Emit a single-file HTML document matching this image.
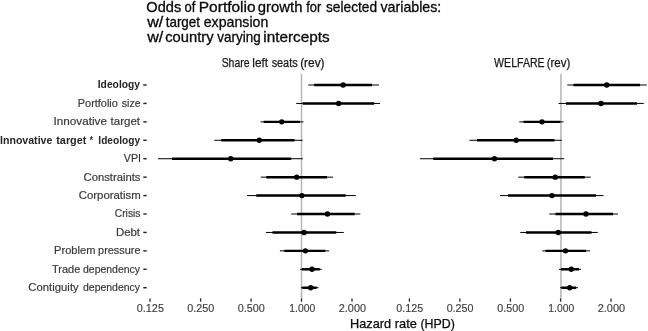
<!DOCTYPE html>
<html><head><meta charset="utf-8"><title>Odds of Portfolio growth</title>
<style>html,body{margin:0;padding:0;background:#fff}svg{display:block;will-change:transform;filter:grayscale(1)}text{font-family:"Liberation Sans",sans-serif}</style>
</head><body>
<svg width="648" height="331" viewBox="0 0 648 331">
<rect x="0" y="0" width="648" height="331" fill="#ffffff"/>
<text x="146.32" y="12.00" font-size="14.1" fill="#0a0a0a" stroke="#0a0a0a" stroke-width="0.3" textLength="34.89" lengthAdjust="spacingAndGlyphs">Odds</text>
<text x="184.59" y="12.00" font-size="14.1" fill="#0a0a0a" stroke="#0a0a0a" stroke-width="0.3" textLength="10.86" lengthAdjust="spacingAndGlyphs">of</text>
<text x="198.79" y="12.00" font-size="14.1" fill="#0a0a0a" stroke="#0a0a0a" stroke-width="0.3" textLength="56.84" lengthAdjust="spacingAndGlyphs">Portfolio</text>
<text x="257.79" y="12.00" font-size="14.1" fill="#0a0a0a" stroke="#0a0a0a" stroke-width="0.3" textLength="44.65" lengthAdjust="spacingAndGlyphs">growth</text>
<text x="306.25" y="12.00" font-size="14.1" fill="#0a0a0a" stroke="#0a0a0a" stroke-width="0.3" textLength="15.06" lengthAdjust="spacingAndGlyphs">for</text>
<text x="326.04" y="12.00" font-size="14.1" fill="#0a0a0a" stroke="#0a0a0a" stroke-width="0.3" textLength="50.98" lengthAdjust="spacingAndGlyphs">selected</text>
<text x="380.5" y="12.00" font-size="14.1" fill="#0a0a0a" stroke="#0a0a0a" stroke-width="0.3" textLength="60.78" lengthAdjust="spacingAndGlyphs">variables:</text>
<text x="147.15" y="27.00" font-size="14.1" fill="#0a0a0a" stroke="#0a0a0a" stroke-width="0.3" textLength="16.09" lengthAdjust="spacingAndGlyphs">w/</text>
<text x="165.7" y="27.00" font-size="14.1" fill="#0a0a0a" stroke="#0a0a0a" stroke-width="0.3" textLength="34.35" lengthAdjust="spacingAndGlyphs">target</text>
<text x="203.76" y="27.00" font-size="14.1" fill="#0a0a0a" stroke="#0a0a0a" stroke-width="0.3" textLength="64.54" lengthAdjust="spacingAndGlyphs">expansion</text>
<text x="147.15" y="42.00" font-size="14.1" fill="#0a0a0a" stroke="#0a0a0a" stroke-width="0.3" textLength="16.09" lengthAdjust="spacingAndGlyphs">w/</text>
<text x="165.24" y="42.00" font-size="14.1" fill="#0a0a0a" stroke="#0a0a0a" stroke-width="0.3" textLength="48.36" lengthAdjust="spacingAndGlyphs">country</text>
<text x="217.3" y="42.00" font-size="14.1" fill="#0a0a0a" stroke="#0a0a0a" stroke-width="0.3" textLength="43.36" lengthAdjust="spacingAndGlyphs">varying</text>
<text x="263.24" y="42.00" font-size="14.1" fill="#0a0a0a" stroke="#0a0a0a" stroke-width="0.3" textLength="66.33" lengthAdjust="spacingAndGlyphs">intercepts</text>
<text x="221.67" y="66.70" font-size="12" fill="#1a1a1a" stroke="#1a1a1a" stroke-width="0.25" textLength="27.85" lengthAdjust="spacingAndGlyphs">Share</text>
<text x="252.36" y="66.70" font-size="12" fill="#1a1a1a" stroke="#1a1a1a" stroke-width="0.25" textLength="15.8" lengthAdjust="spacingAndGlyphs">left</text>
<text x="271.63" y="66.70" font-size="12" fill="#1a1a1a" stroke="#1a1a1a" stroke-width="0.25" textLength="26.01" lengthAdjust="spacingAndGlyphs">seats</text>
<text x="300.14" y="66.70" font-size="12" fill="#1a1a1a" stroke="#1a1a1a" stroke-width="0.25" textLength="24.47" lengthAdjust="spacingAndGlyphs">(rev)</text>
<text x="494.1" y="66.70" font-size="12" fill="#1a1a1a" stroke="#1a1a1a" stroke-width="0.25" textLength="50.54" lengthAdjust="spacingAndGlyphs">WELFARE</text>
<text x="546.66" y="66.70" font-size="12" fill="#1a1a1a" stroke="#1a1a1a" stroke-width="0.25" textLength="23.63" lengthAdjust="spacingAndGlyphs">(rev)</text>
<text x="97.76" y="88.40" font-size="11" font-weight="bold" fill="#262626" textLength="42.28" lengthAdjust="spacingAndGlyphs">Ideology</text>
<text x="77.85" y="106.83" font-size="11" fill="#3a3a3a" stroke="#3a3a3a" stroke-width="0.2" textLength="39.99" lengthAdjust="spacingAndGlyphs">Portfolio</text>
<text x="121.84" y="106.83" font-size="11" fill="#3a3a3a" stroke="#3a3a3a" stroke-width="0.2" textLength="18.69" lengthAdjust="spacingAndGlyphs">size</text>
<text x="53.48" y="125.26" font-size="11" fill="#3a3a3a" stroke="#3a3a3a" stroke-width="0.2" textLength="53.49" lengthAdjust="spacingAndGlyphs">Innovative</text>
<text x="110.6" y="125.26" font-size="11" fill="#3a3a3a" stroke="#3a3a3a" stroke-width="0.2" textLength="29.46" lengthAdjust="spacingAndGlyphs">target</text>
<text x="0.04" y="143.69" font-size="11" font-weight="bold" fill="#262626" textLength="52.32" lengthAdjust="spacingAndGlyphs">Innovative</text>
<text x="56.25" y="143.69" font-size="11" font-weight="bold" fill="#262626" textLength="30.1" lengthAdjust="spacingAndGlyphs">target</text>
<text x="89.8" y="143.69" font-size="11" font-weight="bold" fill="#262626" textLength="3.19" lengthAdjust="spacingAndGlyphs">*</text>
<text x="98.37" y="143.69" font-size="11" font-weight="bold" fill="#262626" textLength="41.67" lengthAdjust="spacingAndGlyphs">Ideology</text>
<text x="123.8" y="162.12" font-size="11" fill="#3a3a3a" stroke="#3a3a3a" stroke-width="0.2" textLength="17.27" lengthAdjust="spacingAndGlyphs">VPI</text>
<text x="83.57" y="180.55" font-size="11" fill="#3a3a3a" stroke="#3a3a3a" stroke-width="0.2" textLength="56.88" lengthAdjust="spacingAndGlyphs">Constraints</text>
<text x="78.77" y="198.98" font-size="11" fill="#3a3a3a" stroke="#3a3a3a" stroke-width="0.2" textLength="61.92" lengthAdjust="spacingAndGlyphs">Corporatism</text>
<text x="114.82" y="217.41" font-size="11" fill="#3a3a3a" stroke="#3a3a3a" stroke-width="0.2" textLength="25.6" lengthAdjust="spacingAndGlyphs">Crisis</text>
<text x="115.91" y="235.84" font-size="11" fill="#3a3a3a" stroke="#3a3a3a" stroke-width="0.2" textLength="24.15" lengthAdjust="spacingAndGlyphs">Debt</text>
<text x="54.03" y="254.27" font-size="11" fill="#3a3a3a" stroke="#3a3a3a" stroke-width="0.2" textLength="41.45" lengthAdjust="spacingAndGlyphs">Problem</text>
<text x="98.12" y="254.27" font-size="11" fill="#3a3a3a" stroke="#3a3a3a" stroke-width="0.2" textLength="42.42" lengthAdjust="spacingAndGlyphs">pressure</text>
<text x="51.93" y="272.70" font-size="11" fill="#3a3a3a" stroke="#3a3a3a" stroke-width="0.2" textLength="28.42" lengthAdjust="spacingAndGlyphs">Trade</text>
<text x="82.97" y="272.70" font-size="11" fill="#3a3a3a" stroke="#3a3a3a" stroke-width="0.2" textLength="57.13" lengthAdjust="spacingAndGlyphs">dependency</text>
<text x="28.37" y="291.13" font-size="11" fill="#3a3a3a" stroke="#3a3a3a" stroke-width="0.2" textLength="50.33" lengthAdjust="spacingAndGlyphs">Contiguity</text>
<text x="82.97" y="291.13" font-size="11" fill="#3a3a3a" stroke="#3a3a3a" stroke-width="0.2" textLength="57.13" lengthAdjust="spacingAndGlyphs">dependency</text>
<text x="136.76" y="312.00" font-size="11" fill="#3d3d3d" stroke="#3d3d3d" stroke-width="0.15" textLength="27.18" lengthAdjust="spacingAndGlyphs">0.125</text>
<text x="187.16" y="312.00" font-size="11" fill="#3d3d3d" stroke="#3d3d3d" stroke-width="0.15" textLength="27.01" lengthAdjust="spacingAndGlyphs">0.250</text>
<text x="237.66" y="312.00" font-size="11" fill="#3d3d3d" stroke="#3d3d3d" stroke-width="0.15" textLength="27.11" lengthAdjust="spacingAndGlyphs">0.500</text>
<text x="289.35" y="312.00" font-size="11" fill="#3d3d3d" stroke="#3d3d3d" stroke-width="0.15" textLength="25.9" lengthAdjust="spacingAndGlyphs">1.000</text>
<text x="338.79" y="312.00" font-size="11" fill="#3d3d3d" stroke="#3d3d3d" stroke-width="0.15" textLength="27.28" lengthAdjust="spacingAndGlyphs">2.000</text>
<text x="396.26" y="312.00" font-size="11" fill="#3d3d3d" stroke="#3d3d3d" stroke-width="0.15" textLength="26.97" lengthAdjust="spacingAndGlyphs">0.125</text>
<text x="446.67" y="312.00" font-size="11" fill="#3d3d3d" stroke="#3d3d3d" stroke-width="0.15" textLength="26.8" lengthAdjust="spacingAndGlyphs">0.250</text>
<text x="497.36" y="312.00" font-size="11" fill="#3d3d3d" stroke="#3d3d3d" stroke-width="0.15" textLength="26.9" lengthAdjust="spacingAndGlyphs">0.500</text>
<text x="548.25" y="312.00" font-size="11" fill="#3d3d3d" stroke="#3d3d3d" stroke-width="0.15" textLength="25.9" lengthAdjust="spacingAndGlyphs">1.000</text>
<text x="597.79" y="312.00" font-size="11" fill="#3d3d3d" stroke="#3d3d3d" stroke-width="0.15" textLength="27.28" lengthAdjust="spacingAndGlyphs">2.000</text>
<text x="350.0" y="328.00" font-size="12.4" fill="#0a0a0a" stroke="#0a0a0a" stroke-width="0.25" textLength="41.11" lengthAdjust="spacingAndGlyphs">Hazard</text>
<text x="394.8" y="328.00" font-size="12.4" fill="#0a0a0a" stroke="#0a0a0a" stroke-width="0.25" textLength="22.12" lengthAdjust="spacingAndGlyphs">rate</text>
<text x="420.42" y="328.00" font-size="12.4" fill="#0a0a0a" stroke="#0a0a0a" stroke-width="0.25" textLength="34.42" lengthAdjust="spacingAndGlyphs">(HPD)</text>
<line x1="301.5" y1="73.8" x2="301.5" y2="298.5" stroke="#b4b4b4" stroke-width="1.5"/>
<line x1="560.95" y1="73.8" x2="560.95" y2="298.5" stroke="#b4b4b4" stroke-width="1.5"/>
<line x1="143.3" y1="85.0" x2="146.7" y2="85.0" stroke="#262626" stroke-width="1.45"/>
<line x1="143.3" y1="103.43" x2="146.7" y2="103.43" stroke="#262626" stroke-width="1.45"/>
<line x1="143.3" y1="121.86" x2="146.7" y2="121.86" stroke="#262626" stroke-width="1.45"/>
<line x1="143.3" y1="140.29" x2="146.7" y2="140.29" stroke="#262626" stroke-width="1.45"/>
<line x1="143.3" y1="158.72" x2="146.7" y2="158.72" stroke="#262626" stroke-width="1.45"/>
<line x1="143.3" y1="177.15" x2="146.7" y2="177.15" stroke="#262626" stroke-width="1.45"/>
<line x1="143.3" y1="195.58" x2="146.7" y2="195.58" stroke="#262626" stroke-width="1.45"/>
<line x1="143.3" y1="214.01" x2="146.7" y2="214.01" stroke="#262626" stroke-width="1.45"/>
<line x1="143.3" y1="232.44" x2="146.7" y2="232.44" stroke="#262626" stroke-width="1.45"/>
<line x1="143.3" y1="250.87" x2="146.7" y2="250.87" stroke="#262626" stroke-width="1.45"/>
<line x1="143.3" y1="269.3" x2="146.7" y2="269.3" stroke="#262626" stroke-width="1.45"/>
<line x1="143.3" y1="287.73" x2="146.7" y2="287.73" stroke="#262626" stroke-width="1.45"/>
<line x1="150.0" y1="298.4" x2="150.0" y2="301.7" stroke="#262626" stroke-width="1.3"/>
<line x1="200.6" y1="298.4" x2="200.6" y2="301.7" stroke="#262626" stroke-width="1.3"/>
<line x1="251.1" y1="298.4" x2="251.1" y2="301.7" stroke="#262626" stroke-width="1.3"/>
<line x1="301.5" y1="298.4" x2="301.5" y2="301.7" stroke="#262626" stroke-width="1.3"/>
<line x1="352.0" y1="298.4" x2="352.0" y2="301.7" stroke="#262626" stroke-width="1.3"/>
<line x1="409.4" y1="298.4" x2="409.4" y2="301.7" stroke="#262626" stroke-width="1.3"/>
<line x1="459.9" y1="298.4" x2="459.9" y2="301.7" stroke="#262626" stroke-width="1.3"/>
<line x1="510.4" y1="298.4" x2="510.4" y2="301.7" stroke="#262626" stroke-width="1.3"/>
<line x1="560.6" y1="298.4" x2="560.6" y2="301.7" stroke="#262626" stroke-width="1.3"/>
<line x1="611.0" y1="298.4" x2="611.0" y2="301.7" stroke="#262626" stroke-width="1.3"/>
<line x1="308.2" y1="85.0" x2="379.0" y2="85.0" stroke="#000" stroke-width="1.0"/>
<line x1="314.2" y1="85.0" x2="372.1" y2="85.0" stroke="#000" stroke-width="2.45"/>
<circle cx="343.1" cy="85.0" r="2.7" fill="#000"/>
<line x1="296.2" y1="103.43" x2="380.0" y2="103.43" stroke="#000" stroke-width="1.0"/>
<line x1="302.7" y1="103.43" x2="374.1" y2="103.43" stroke="#000" stroke-width="2.45"/>
<circle cx="338.6" cy="103.43" r="2.7" fill="#000"/>
<line x1="260.5" y1="121.86" x2="303.5" y2="121.86" stroke="#000" stroke-width="1.0"/>
<line x1="263.75" y1="121.86" x2="300.0" y2="121.86" stroke="#000" stroke-width="2.45"/>
<circle cx="281.75" cy="121.86" r="2.7" fill="#000"/>
<line x1="214.25" y1="140.29" x2="302.6" y2="140.29" stroke="#000" stroke-width="1.0"/>
<line x1="221.25" y1="140.29" x2="294.5" y2="140.29" stroke="#000" stroke-width="2.45"/>
<circle cx="259.25" cy="140.29" r="2.7" fill="#000"/>
<line x1="158.0" y1="158.72" x2="302.8" y2="158.72" stroke="#000" stroke-width="1.0"/>
<line x1="172.0" y1="158.72" x2="291.2" y2="158.72" stroke="#000" stroke-width="2.45"/>
<circle cx="230.75" cy="158.72" r="2.7" fill="#000"/>
<line x1="260.75" y1="177.15" x2="333.1" y2="177.15" stroke="#000" stroke-width="1.0"/>
<line x1="266.25" y1="177.15" x2="327.0" y2="177.15" stroke="#000" stroke-width="2.45"/>
<circle cx="296.7" cy="177.15" r="2.7" fill="#000"/>
<line x1="247.0" y1="195.58" x2="355.9" y2="195.58" stroke="#000" stroke-width="1.0"/>
<line x1="256.25" y1="195.58" x2="345.6" y2="195.58" stroke="#000" stroke-width="2.45"/>
<circle cx="301.9" cy="195.58" r="2.7" fill="#000"/>
<line x1="291.3" y1="214.01" x2="360.3" y2="214.01" stroke="#000" stroke-width="1.0"/>
<line x1="297.1" y1="214.01" x2="354.7" y2="214.01" stroke="#000" stroke-width="2.45"/>
<circle cx="327.5" cy="214.01" r="2.7" fill="#000"/>
<line x1="265.9" y1="232.44" x2="343.8" y2="232.44" stroke="#000" stroke-width="1.0"/>
<line x1="272.5" y1="232.44" x2="336.2" y2="232.44" stroke="#000" stroke-width="2.45"/>
<circle cx="304.1" cy="232.44" r="2.7" fill="#000"/>
<line x1="279.9" y1="250.87" x2="329.1" y2="250.87" stroke="#000" stroke-width="1.0"/>
<line x1="284.3" y1="250.87" x2="325.2" y2="250.87" stroke="#000" stroke-width="2.45"/>
<circle cx="305.4" cy="250.87" r="2.7" fill="#000"/>
<line x1="300.0" y1="269.3" x2="321.8" y2="269.3" stroke="#000" stroke-width="1.0"/>
<line x1="301.9" y1="269.3" x2="319.8" y2="269.3" stroke="#000" stroke-width="2.45"/>
<circle cx="312.0" cy="269.3" r="2.7" fill="#000"/>
<line x1="300.9" y1="287.73" x2="318.6" y2="287.73" stroke="#000" stroke-width="1.0"/>
<line x1="302.2" y1="287.73" x2="316.6" y2="287.73" stroke="#000" stroke-width="2.45"/>
<circle cx="310.7" cy="287.73" r="2.7" fill="#000"/>
<line x1="567.25" y1="85.0" x2="646.8" y2="85.0" stroke="#000" stroke-width="1.0"/>
<line x1="573.5" y1="85.0" x2="640.0" y2="85.0" stroke="#000" stroke-width="2.45"/>
<circle cx="606.75" cy="85.0" r="2.7" fill="#000"/>
<line x1="558.5" y1="103.43" x2="643.8" y2="103.43" stroke="#000" stroke-width="1.0"/>
<line x1="566.0" y1="103.43" x2="637.0" y2="103.43" stroke="#000" stroke-width="2.45"/>
<circle cx="601.0" cy="103.43" r="2.7" fill="#000"/>
<line x1="519.25" y1="121.86" x2="563.5" y2="121.86" stroke="#000" stroke-width="1.0"/>
<line x1="523.5" y1="121.86" x2="560.25" y2="121.86" stroke="#000" stroke-width="2.45"/>
<circle cx="542.0" cy="121.86" r="2.7" fill="#000"/>
<line x1="469.5" y1="140.29" x2="561.75" y2="140.29" stroke="#000" stroke-width="1.0"/>
<line x1="477.0" y1="140.29" x2="554.5" y2="140.29" stroke="#000" stroke-width="2.45"/>
<circle cx="516.25" cy="140.29" r="2.7" fill="#000"/>
<line x1="420.0" y1="158.72" x2="564.25" y2="158.72" stroke="#000" stroke-width="1.0"/>
<line x1="433.25" y1="158.72" x2="553.0" y2="158.72" stroke="#000" stroke-width="2.45"/>
<circle cx="494.5" cy="158.72" r="2.7" fill="#000"/>
<line x1="518.25" y1="177.15" x2="590.75" y2="177.15" stroke="#000" stroke-width="1.0"/>
<line x1="524.25" y1="177.15" x2="584.75" y2="177.15" stroke="#000" stroke-width="2.45"/>
<circle cx="555.25" cy="177.15" r="2.7" fill="#000"/>
<line x1="500.0" y1="195.58" x2="603.5" y2="195.58" stroke="#000" stroke-width="1.0"/>
<line x1="508.0" y1="195.58" x2="596.0" y2="195.58" stroke="#000" stroke-width="2.45"/>
<circle cx="552.0" cy="195.58" r="2.7" fill="#000"/>
<line x1="549.25" y1="214.01" x2="618.0" y2="214.01" stroke="#000" stroke-width="1.0"/>
<line x1="555.5" y1="214.01" x2="613.0" y2="214.01" stroke="#000" stroke-width="2.45"/>
<circle cx="586.0" cy="214.01" r="2.7" fill="#000"/>
<line x1="520.25" y1="232.44" x2="597.75" y2="232.44" stroke="#000" stroke-width="1.0"/>
<line x1="526.0" y1="232.44" x2="591.5" y2="232.44" stroke="#000" stroke-width="2.45"/>
<circle cx="558.25" cy="232.44" r="2.7" fill="#000"/>
<line x1="542.25" y1="250.87" x2="590.0" y2="250.87" stroke="#000" stroke-width="1.0"/>
<line x1="545.5" y1="250.87" x2="586.0" y2="250.87" stroke="#000" stroke-width="2.45"/>
<circle cx="565.5" cy="250.87" r="2.7" fill="#000"/>
<line x1="559.0" y1="269.3" x2="581.0" y2="269.3" stroke="#000" stroke-width="1.0"/>
<line x1="561.0" y1="269.3" x2="579.0" y2="269.3" stroke="#000" stroke-width="2.45"/>
<circle cx="571.25" cy="269.3" r="2.7" fill="#000"/>
<line x1="560.0" y1="287.73" x2="578.0" y2="287.73" stroke="#000" stroke-width="1.0"/>
<line x1="561.5" y1="287.73" x2="576.0" y2="287.73" stroke="#000" stroke-width="2.45"/>
<circle cx="569.75" cy="287.73" r="2.7" fill="#000"/>
</svg>
</body></html>
